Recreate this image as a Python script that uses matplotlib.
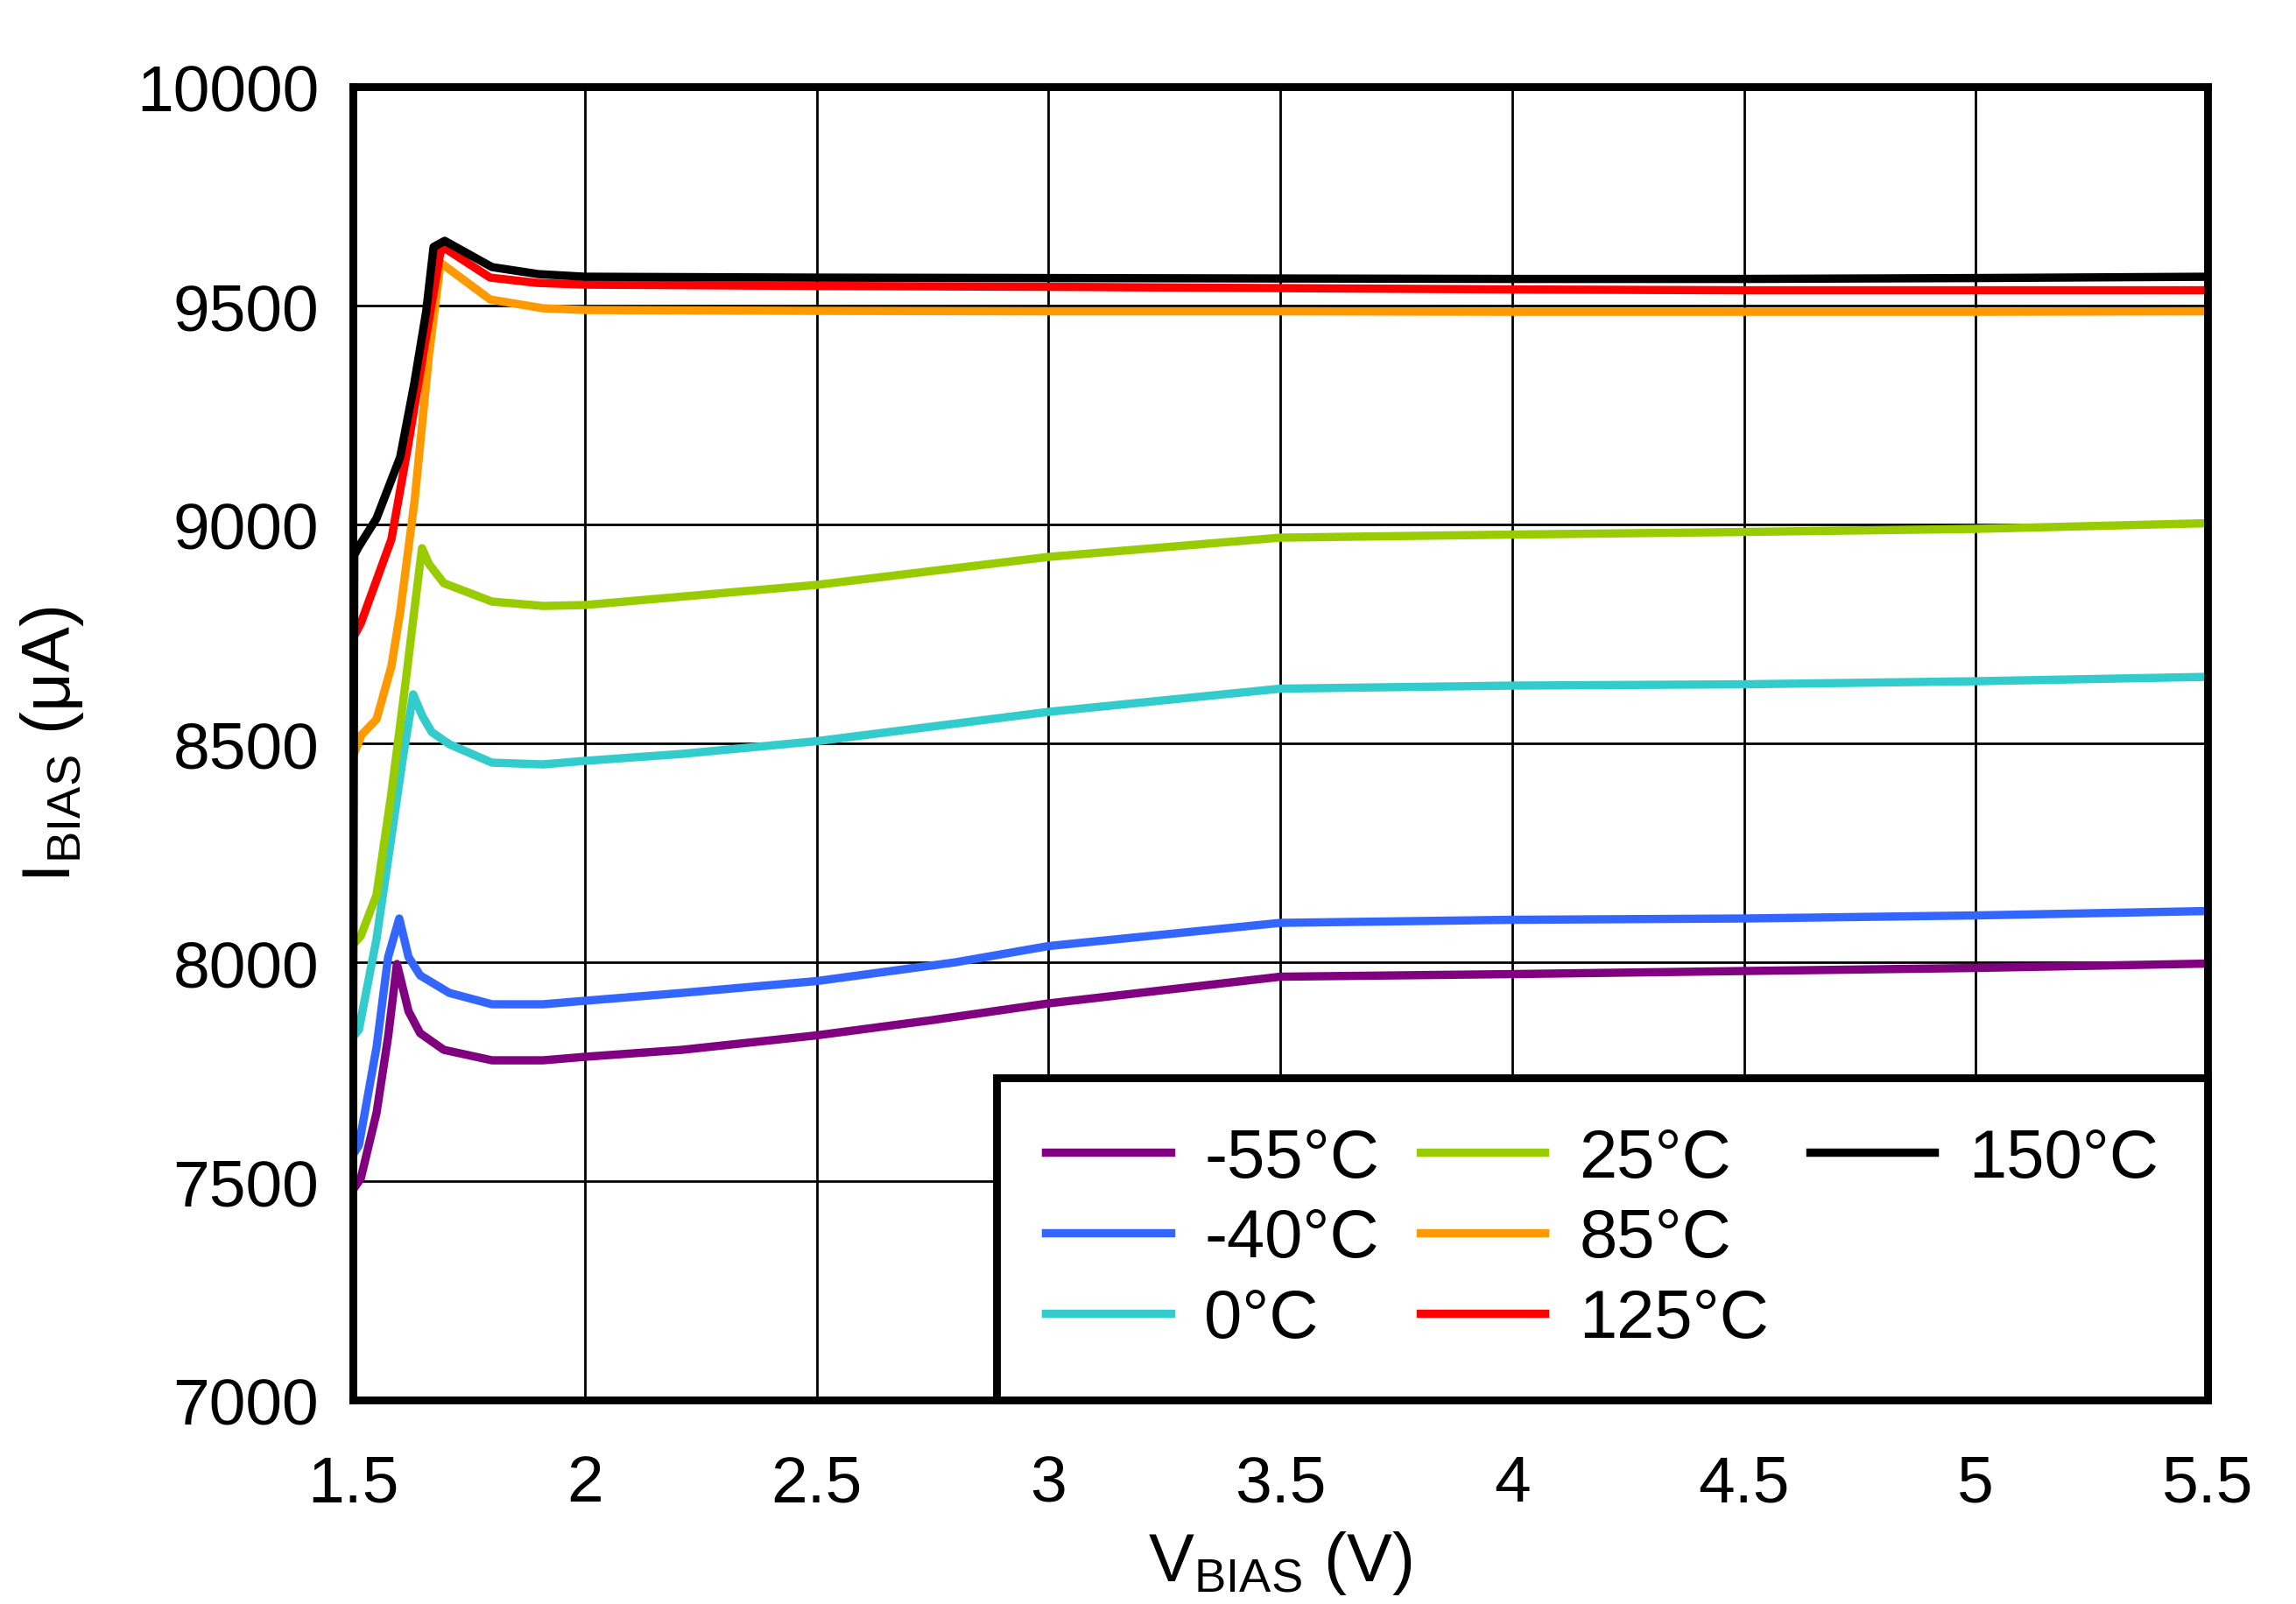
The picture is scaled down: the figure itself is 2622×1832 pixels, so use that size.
import matplotlib
matplotlib.use('Agg')
import matplotlib.pyplot as plt
from matplotlib.lines import Line2D

plt.rcParams['font.family'] = ['Liberation Sans', 'DejaVu Sans']

# I_BIAS vs V_BIAS per temperature
v_m55 = [1.5, 1.517, 1.551, 1.576, 1.595, 1.62, 1.645, 1.696, 1.80, 1.91, 2.0, 2.21, 2.5, 2.75, 3.0, 3.5, 4.0, 4.5, 5.0, 5.5]
i_m55 = [7480, 7506, 7656, 7830, 7996, 7888, 7838, 7800, 7776, 7776, 7784, 7800, 7833, 7868, 7906, 7967, 7973, 7980, 7987, 7997]

v_m40 = [1.5, 1.513, 1.551, 1.576, 1.600, 1.62, 1.645, 1.708, 1.80, 1.91, 2.0, 2.21, 2.5, 2.8, 3.0, 3.5, 4.0, 4.5, 5.0, 5.5]
i_m40 = [7560, 7582, 7806, 8012, 8100, 8012, 7970, 7930, 7904, 7904, 7912, 7930, 7957, 8000, 8037, 8090, 8097, 8100, 8107, 8117]

v_0 = [1.5, 1.513, 1.551, 1.583, 1.608, 1.630, 1.65, 1.670, 1.708, 1.80, 1.91, 2.0, 2.21, 2.5, 3.0, 3.5, 4.0, 4.5, 5.0, 5.5]
i_0 = [7830, 7846, 8054, 8286, 8468, 8612, 8562, 8526, 8498, 8456, 8452, 8460, 8476, 8505, 8572, 8625, 8632, 8635, 8642, 8652]

v_25 = [1.5, 1.517, 1.551, 1.583, 1.613, 1.632, 1.649, 1.664, 1.696, 1.80, 1.91, 2.0, 2.5, 3.0, 3.5, 4.0, 4.5, 5.0, 5.5]
i_25 = [8040, 8060, 8154, 8386, 8634, 8800, 8946, 8910, 8866, 8824, 8814, 8816, 8862, 8926, 8970, 8977, 8983, 8990, 9003]

v_85 = [1.5, 1.519, 1.551, 1.583, 1.602, 1.633, 1.664, 1.689, 1.796, 1.91, 2.0, 2.5, 3.0, 3.5, 4.0, 4.5, 5.0, 5.5]
i_85 = [8470, 8520, 8555, 8676, 8800, 9054, 9386, 9598, 9514, 9494, 9490, 9488, 9487, 9487, 9486, 9486, 9486, 9487]

v_125 = [1.5, 1.517, 1.583, 1.62, 1.651, 1.689, 1.70, 1.796, 1.897, 2.0, 2.5, 3.0, 3.5, 4.0, 4.5, 5.0, 5.5]
i_125 = [8740, 8774, 8966, 9186, 9386, 9624, 9630, 9564, 9552, 9548, 9545, 9543, 9540, 9537, 9535, 9535, 9535]

v_150 = [1.5, 1.503, 1.513, 1.551, 1.602, 1.632, 1.658, 1.674, 1.698, 1.80, 1.90, 2.0, 2.5, 3.0, 3.5, 4.0, 4.5, 5.0, 5.5]
i_150 = [7550, 8930, 8950, 9014, 9154, 9320, 9486, 9634, 9648, 9588, 9572, 9566, 9564, 9563, 9562, 9561, 9561, 9563, 9566]

labels = ['-55°C', '-40°C', '0°C', '25°C', '85°C', '125°C', '150°C']
colors = ['#800080', '#3366FF', '#33CCCC', '#99CC00', '#FF9900', '#FF0000', '#000000']
series = [(v_m55, i_m55), (v_m40, i_m40), (v_0, i_0), (v_25, i_25),
          (v_85, i_85), (v_125, i_125), (v_150, i_150)]

x_ticks = [1.5, 2, 2.5, 3, 3.5, 4, 4.5, 5, 5.5]
x_ticklabels = ['1.5', '2', '2.5', '3', '3.5', '4', '4.5', '5', '5.5']
y_ticks = [7000, 7500, 8000, 8500, 9000, 9500, 10000]

fig = plt.figure(figsize=(13.11, 9.165), dpi=200)
ax = fig.add_axes([0.1537, 0.1271, 0.8078, 0.8183])

handles = []
for (v, i), lab, c in zip(series, labels, colors):
    ln, = ax.plot(v, i, color=c, lw=3.4, label=lab, zorder=3, solid_joinstyle='round')
    handles.append(ln)

ax.set_xlim(1.5, 5.5)
ax.set_ylim(7000, 10000)
ax.set_xticks(x_ticks)
ax.set_xticklabels(x_ticklabels)
ax.set_yticks(y_ticks)
ax.tick_params(axis='both', length=0, labelsize=27)
ax.tick_params(axis='x', pad=22)
ax.tick_params(axis='y', pad=14)
ax.grid(True, color='black', lw=1.0, zorder=1)
for s in ax.spines.values():
    s.set_linewidth(3.2)
    s.set_zorder(5)

ax.set_xlabel(r'$\mathregular{V_{BIAS}}$ (V)', fontsize=28, labelpad=6)
ax.set_ylabel(r'$\mathregular{I_{BIAS}}$ ($\mathregular{\mu}$A)', fontsize=28, labelpad=21)

# pad the last column with blank entries so columns fill 3/3/1
blank = Line2D([], [], color='none')
leg_handles = handles + [blank, blank]
leg_labels = labels + ['', '']
leg = ax.legend(leg_handles, leg_labels, ncol=3, loc='lower right', bbox_to_anchor=(1.0, 0.0),
                fontsize=28, frameon=True, fancybox=False, framealpha=1, edgecolor='black',
                handlelength=1.83, handletextpad=0.5, columnspacing=0.6, labelspacing=0.24,
                borderpad=0.72, borderaxespad=0)
leg.get_frame().set_linewidth(3.2)
leg.set_zorder(6)

fig.savefig('out.png', dpi=200)
